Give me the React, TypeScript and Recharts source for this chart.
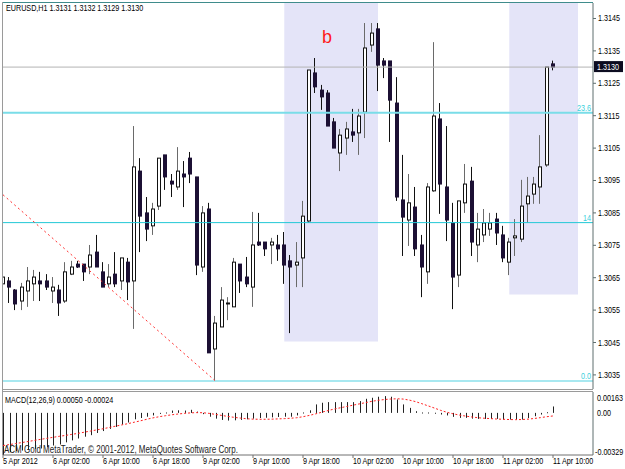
import {
  Bar,
  ComposedChart,
  Line,
  ReferenceArea,
  ReferenceLine,
  XAxis,
  YAxis,
} from "recharts";

const FONT = "'Liberation Sans', Arial, sans-serif";

// EURUSD H1, 5 Apr 18:00 .. 11 Apr 10:00
const opens = [
  1.30631, 1.3064, 1.30612, 1.30578, 1.30609, 1.30631, 1.3064, 1.3064, 1.30609, 1.30612,
  1.30578, 1.30661, 1.30692, 1.30692, 1.30683, 1.30729, 1.30668, 1.30631, 1.30661, 1.3064,
  1.30698, 1.3064, 1.30979, 1.3085, 1.3081, 1.30871, 1.31029, 1.30948, 1.3093, 1.3097,
  1.31019, 1.30961, 1.30683, 1.30862, 1.3043, 1.30498, 1.30569, 1.3056, 1.30692, 1.30652,
  1.30621, 1.3076, 1.3076, 1.30751, 1.30751, 1.30751, 1.30702, 1.30689, 1.30711, 1.30825,
  1.31282, 1.31229, 1.3122, 1.31131, 1.31035, 1.31081, 1.311, 1.31097, 1.31161, 1.31368,
  1.31418, 1.31319, 1.31319, 1.31189, 1.3089, 1.30828, 1.30868, 1.30751, 1.30668, 1.30918,
  1.3114, 1.3093, 1.30819, 1.30658, 1.30881, 1.30948, 1.30751, 1.30782, 1.308, 1.30831,
  1.30782, 1.30698, 1.30773, 1.30769, 1.30878, 1.30908, 1.3093, 1.30998, 1.3131,
];
const highs = [
  1.30742, 1.30652, 1.30615, 1.30634, 1.30683, 1.30674, 1.30668, 1.30661, 1.30652, 1.30628,
  1.30698, 1.30702, 1.30702, 1.30692, 1.30751, 1.30782, 1.30698, 1.30692, 1.30729, 1.30711,
  1.30711, 1.31118, 1.31019, 1.30899, 1.30881, 1.31019, 1.31029, 1.3097, 1.31053, 1.3101,
  1.31038, 1.30961, 1.30871, 1.30881, 1.30532, 1.30621, 1.3059, 1.30711, 1.30692, 1.30714,
  1.30853, 1.3085, 1.3076, 1.30773, 1.30782, 1.30791, 1.3072, 1.3076, 1.30887, 1.31291,
  1.31328, 1.31245, 1.31229, 1.31143, 1.31109, 1.31131, 1.31171, 1.31171, 1.31436, 1.31436,
  1.31436, 1.31328, 1.31319, 1.31269, 1.31029, 1.3097, 1.3093, 1.30782, 1.30942, 1.31377,
  1.31189, 1.31118, 1.30881, 1.30887, 1.31001, 1.30992, 1.3085, 1.30862, 1.3085, 1.3085,
  1.3081, 1.30773, 1.30831, 1.30952, 1.30961, 1.30961, 1.3109, 1.313, 1.3132,
];
const lows = [
  1.3056, 1.30572, 1.3055, 1.3055, 1.3056, 1.30578, 1.30578, 1.30612, 1.30572, 1.30532,
  1.30572, 1.30658, 1.3068, 1.3064, 1.30661, 1.30683, 1.30621, 1.30621, 1.30621, 1.30612,
  1.30581, 1.30492, 1.30729, 1.30763, 1.30782, 1.30859, 1.30921, 1.30899, 1.30921, 1.30868,
  1.30942, 1.30658, 1.30668, 1.30418, 1.30331, 1.30498, 1.30519, 1.3056, 1.30603, 1.30621,
  1.3056, 1.30748, 1.30717, 1.30692, 1.30702, 1.30631, 1.30479, 1.30621, 1.30621, 1.30819,
  1.3122, 1.31168, 1.31118, 1.3105, 1.30979, 1.31029, 1.31069, 1.31029, 1.31081, 1.31347,
  1.31226, 1.31266, 1.31069, 1.30887, 1.30717, 1.30748, 1.30717, 1.3059, 1.30631, 1.30915,
  1.30847, 1.30763, 1.30553, 1.30621, 1.3085, 1.30717, 1.30698, 1.3076, 1.30779, 1.30751,
  1.30698, 1.30658, 1.30717, 1.3076, 1.30819, 1.30878, 1.30878, 1.30992, 1.3129,
];
const closes = [
  1.30652, 1.30621, 1.30569, 1.30621, 1.3064, 1.30652, 1.30631, 1.30621, 1.30621, 1.30572,
  1.30668, 1.30683, 1.30683, 1.30668, 1.3072, 1.30683, 1.30621, 1.30652, 1.30631, 1.30711,
  1.30637, 1.30992, 1.3084, 1.308, 1.30862, 1.31019, 1.30961, 1.30939, 1.30979, 1.30961,
  1.3097, 1.30689, 1.3085, 1.30418, 1.3051, 1.30581, 1.30572, 1.30698, 1.3064, 1.30631,
  1.30751, 1.30751, 1.30739, 1.3076, 1.30739, 1.30689, 1.30683, 1.30698, 1.3084, 1.31291,
  1.31239, 1.31208, 1.31118, 1.3105, 1.3109, 1.31109, 1.3109, 1.31149, 1.31359, 1.31405,
  1.31306, 1.31306, 1.31198, 1.30899, 1.30837, 1.30881, 1.30739, 1.30683, 1.3093, 1.31149,
  1.30939, 1.30828, 1.30652, 1.30887, 1.30939, 1.3076, 1.308, 1.30819, 1.30819, 1.30788,
  1.30711, 1.3076, 1.30779, 1.30871, 1.30902, 1.30939, 1.30992, 1.313, 1.313,
];

// MACD(12,26,9): main histogram and signal line
const macdMain = [
  -0.00329, -0.00307, -0.00299, -0.00294, -0.00289, -0.00281, -0.00278, -0.00268, -0.00255, -0.00247,
  -0.0023, -0.00215, -0.002, -0.00186, -0.00174, -0.00157, -0.00142, -0.00125, -0.0011, -0.0009,
  -0.00075, -0.0005, -0.0004, -0.0003, -0.0002, -0.00005, 0.00003, 0.00018, 0.0002, 0.00018,
  0.00024, 0.0001, -0.0001, -0.0003, -0.00045, -0.00055, -0.0006, -0.00058, -0.00055, -0.0005,
  -0.00045, -0.0004, -0.00038, -0.00035, -0.00032, -0.0003, -0.0003, -0.0002, 0.00003, 0.0002,
  0.00066, 0.00079, 0.00084, 0.00084, 0.00084, 0.00084, 0.00084, 0.00092, 0.0011, 0.00118,
  0.00126, 0.00131, 0.00126, 0.00105, 0.00066, 0.00039, 0.00013, 0.00003, 0.00003, 0.00001,
  -0.00013, -0.0002, -0.00031, -0.00039, -0.00039, -0.00045, -0.00047, -0.00047, -0.00047, -0.00047,
  -0.00052, -0.00052, -0.00052, -0.00052, -0.0004, -0.00026, -0.00013, 0.00005, 0.0005,
];
const macdSignal = [
  -0.00255, -0.00248, -0.0024, -0.00232, -0.00224, -0.00215, -0.00207, -0.00199, -0.00191, -0.00183,
  -0.00176, -0.00168, -0.0016, -0.00151, -0.00142, -0.00133, -0.00124, -0.00114, -0.00104, -0.00094,
  -0.00084, -0.00073, -0.00062, -0.0005, -0.00039, -0.0003, -0.00022, -0.00015, -0.00009, -0.00004,
  0, 0.00002, 0.00001, -0.00004, -0.00012, -0.0002, -0.00028, -0.00035, -0.00041, -0.00046,
  -0.00049, -0.0005, -0.0005, -0.00049, -0.00047, -0.00045, -0.00042, -0.00038, -0.0003, -0.0002,
  -0.00008, 0.00005, 0.00018, 0.0003, 0.0004, 0.0005, 0.0006, 0.0007, 0.0008, 0.0009,
  0.00098, 0.00104, 0.00108, 0.0011, 0.00108, 0.001, 0.00088, 0.00072, 0.00055, 0.00038,
  0.0002, 0.00005, -0.00007, -0.00017, -0.00025, -0.00032, -0.00038, -0.00042, -0.00045, -0.00048,
  -0.0005, -0.00052, -0.00053, -0.00052, -0.00049, -0.00044, -0.00037, -0.0003, -0.00024,
];

const timeLabels = [
  "5 Apr 2012", "6 Apr 02:00", "6 Apr 10:00", "6 Apr 18:00", "9 Apr 02:00", "9 Apr 10:00",
  "9 Apr 18:00", "10 Apr 02:00", "10 Apr 10:00", "10 Apr 18:00", "11 Apr 02:00", "11 Apr 10:00",
];
const priceTicks = [
  1.3035, 1.3045, 1.3055, 1.3065, 1.3075, 1.3085, 1.3095, 1.3105, 1.3115, 1.3125, 1.3135, 1.3145,
];
const macdTicks = [0.00163, 0, -0.00329];

const fibNames = ["23.6", "14", "0.0"];
const fibPrices = [1.31159, 1.3082, 1.30331];
const fibColors = ["#7adde8", "#22c8d6", "#a8e8f0"];
const fibWidths = [2, 1, 2];

const boxStart = [45, 81];
const boxEnd = [60, 92];
const boxFloor = [1.30453, 1.30598];

const lastPrice = 1.313;
const trendFrom = { x: 0, y: 1.30906 };
const trendTo = { x: 34, y: 1.30331 };

const PRICE_MIN = 1.303065;
const PRICE_MAX = 1.314978;
const X_DOMAIN: [number, number] = [0, 94.4];

const candles = opens.map((open, i) => ({
  i,
  open,
  high: highs[i],
  low: lows[i],
  close: closes[i],
  range: [lows[i], highs[i]],
}));
const macdData = macdMain.map((m, i) => ({ i, macd: m, signal: macdSignal[i] }));
const timeTicks = timeLabels.map((_, k) => k * 8);

function Candle(props: any) {
  const { x, y, width, height, payload } = props;
  if (x == null || y == null || !payload) return null;
  const { open, high, low, close } = payload;
  const top = Math.min(y, y + height);
  const span = Math.abs(height);
  const perUnit = high > low ? span / (high - low) : 0;
  const py = (v: number) => top + (high - v) * perUnit;
  const left = Math.round(x + width / 2) - 2;
  const up = close >= open;
  const bTop = py(Math.max(open, close));
  const bBot = py(Math.min(open, close));
  const bh = Math.max(bBot - bTop, 1);
  return (
    <g>
      <line x1={left + 1.5} x2={left + 1.5} y1={top} y2={top + span} stroke={up ? "#6a6a6a" : "#111"} />
      {up ? (
        <rect x={left + 0.5} y={bTop} width={3} height={bh} fill="#fff" stroke="#111" />
      ) : (
        <rect x={left} y={bTop - 0.5} width={4} height={bh + 1} fill="#1c1034" />
      )}
    </g>
  );
}

function HistBar(props: any) {
  const { x, y, width, height } = props;
  if (x == null || y == null) return null;
  const top = Math.min(y, y + height);
  return <rect x={Math.round(x + width / 2)} y={top} width={1} height={Math.max(Math.abs(height), 1)} fill="#222" />;
}

function PriceTick({ x, y, payload }: any) {
  return (
    <text transform={`translate(${x},${y + 3}) scale(0.8,1)`} fontSize={9} fontFamily={FONT} fill="#000">
      {Number(payload.value).toFixed(4)}
    </text>
  );
}

function MacdTick({ y, payload }: any) {
  const v = Number(payload.value);
  const dy = v > 0 ? 9 : v < 0 ? 0 : 3;
  const label = v === 0 ? "0.00" : v.toFixed(5);
  return (
    <text transform={`translate(${v < 0 ? 595 : 597},${y + dy}) scale(0.8,1)`} fontSize={9} fontFamily={FONT} fill="#000">
      {label}
    </text>
  );
}

function TimeTick({ x, y, payload }: any) {
  const label = timeLabels[Math.round(Number(payload.value) / 8)];
  return (
    <text transform={`translate(${x},${y + 5}) scale(0.8,1)`} fontSize={9} fontFamily={FONT} fill="#000">
      {label}
    </text>
  );
}

export default function App() {
  return (
    <div
      style={{
        position: "absolute",
        left: 0,
        top: 0,
        width: 625,
        height: 469,
        background: "#fff",
        overflow: "hidden",
      }}
    >
      <div style={{ position: "absolute", left: 0, top: 0 }}>
        <ComposedChart width={625} height={389} data={candles} margin={{ top: 3, right: 0, bottom: 0, left: 3 }}>
          <XAxis dataKey="i" type="number" domain={X_DOMAIN} hide allowDataOverflow />
          <YAxis
            orientation="right"
            domain={[PRICE_MIN, PRICE_MAX]}
            ticks={priceTicks}
            interval={0}
            width={32}
            tickSize={3}
            tickMargin={2}
            tick={<PriceTick />}
            stroke="#5f6f6f"
            allowDataOverflow
          />
          {boxStart.map((s, k) => (
            <ReferenceArea
              key={`box${k}`}
              x1={s}
              x2={boxEnd[k]}
              y1={boxFloor[k]}
              y2={PRICE_MAX}
              fill="#e4e4f8"
              fillOpacity={1}
              stroke="none"
            />
          ))}
          <ReferenceLine
            y={lastPrice}
            stroke="#b4b4b4"
            label={(p: any) => {
              const vb = p.viewBox || {};
              const ax = (vb.x ?? 3) + (vb.width ?? 590) + 1;
              const ay = vb.y ?? 67;
              return (
                <g>
                  <rect x={ax} y={ay - 6} width={29} height={11} fill="#0c0c20" />
                  <text transform={`translate(${ax + 3},${ay + 3}) scale(0.8,1)`} fontSize={9} fontFamily={FONT} fill="#fff">
                    {lastPrice.toFixed(4)}
                  </text>
                </g>
              );
            }}
          />
          {fibPrices.map((fp, k) => (
            <ReferenceLine
              key={`fib${k}`}
              y={fp}
              stroke={fibColors[k]}
              strokeWidth={fibWidths[k]}
              label={(p: any) => {
                const vb = p.viewBox || {};
                const rx = (vb.x ?? 3) + (vb.width ?? 590) - 2;
                return (
                  <text
                    transform={`translate(${rx},${(vb.y ?? 0) - 2}) scale(0.8,1)`}
                    textAnchor="end"
                    fontSize={9}
                    fontFamily={FONT}
                    fill="#3ccfdc"
                  >
                    {fibNames[k]}
                  </text>
                );
              }}
            />
          ))}
          <ReferenceLine segment={[trendFrom, trendTo]} stroke="#ff3030" strokeDasharray="2 3" />
          <Bar dataKey="range" barSize={4} shape={<Candle />} isAnimationActive={false} />
        </ComposedChart>
      </div>

      <div style={{ position: "absolute", left: 0, top: 389 }}>
        <ComposedChart width={625} height={80} data={macdData} margin={{ top: 3, right: 0, bottom: 0, left: 3 }}>
          <XAxis
            dataKey="i"
            type="number"
            domain={X_DOMAIN}
            ticks={timeTicks}
            interval={0}
            height={14}
            tickSize={3}
            tickMargin={1}
            tick={<TimeTick />}
            stroke="#707070"
            allowDataOverflow
          />
          <YAxis
            orientation="right"
            domain={[macdTicks[2], macdTicks[0]]}
            ticks={macdTicks}
            interval={0}
            width={32}
            tickLine={false}
            tick={<MacdTick />}
            stroke="#5f6f6f"
            allowDataOverflow
          />
          <Bar dataKey="macd" barSize={1} shape={<HistBar />} isAnimationActive={false} />
          <Line
            dataKey="signal"
            stroke="#ff2020"
            strokeDasharray="2 2"
            dot={false}
            strokeWidth={1}
            isAnimationActive={false}
          />
        </ComposedChart>
      </div>

      {/* panel frames */}
      <div style={{ position: "absolute", left: 2, top: 2, width: 591, height: 0, borderTop: "1px solid #3f8c8c" }} />
      <div style={{ position: "absolute", left: 2, top: 2, width: 0, height: 453, borderLeft: "1px solid #9a9a9a" }} />
      <div style={{ position: "absolute", left: 2, top: 389, width: 591, height: 0, borderTop: "1px solid #9a9a9a" }} />
      <div style={{ position: "absolute", left: 2, top: 391, width: 591, height: 0, borderTop: "1px solid #9a9a9a" }} />

      <svg width={625} height={469} style={{ position: "absolute", left: 0, top: 0, pointerEvents: "none" }}>
        <text transform="translate(6,11) scale(0.8,1)" fontSize={9} fontFamily={FONT} fill="#000">
          EURUSD,H1  1.3131 1.3132 1.3129 1.3130
        </text>
        <text x={322} y={43} fontSize={18} fontFamily={FONT} fill="#ff1a1a">
          b
        </text>
        <text transform="translate(5,403) scale(0.8,1)" fontSize={9} fontFamily={FONT} fill="#000">
          MACD(12,26,9) 0.00050 -0.00024
        </text>
        <text transform="translate(4,453) scale(0.8,1)" fontSize={10} fontFamily={FONT} fill="#222">
          ACM Gold MetaTrader, © 2001-2012, MetaQuotes Software Corp.
        </text>
      </svg>
    </div>
  );
}
